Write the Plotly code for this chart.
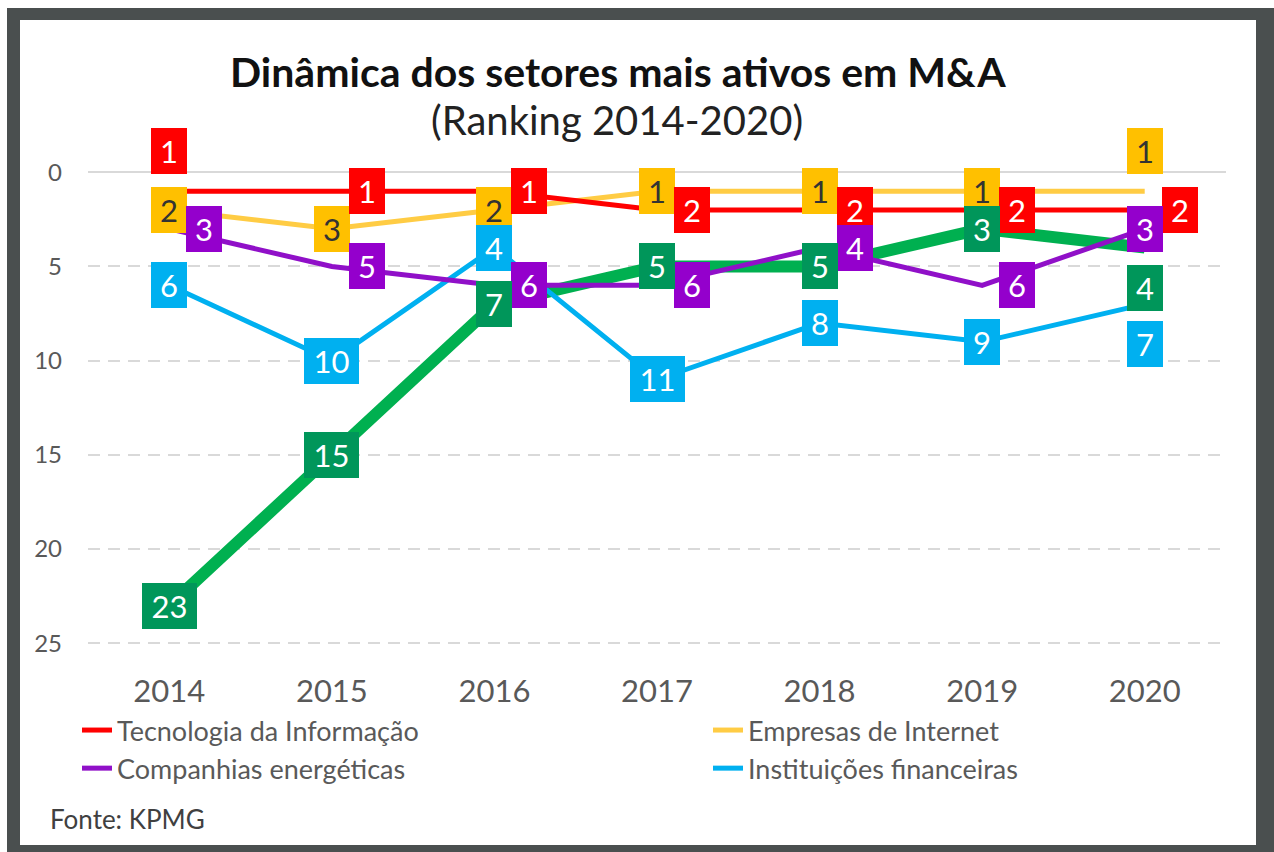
import plotly.graph_objects as go

# ---------------- data ----------------
years = ["2014", "2015", "2016", "2017", "2018", "2019", "2020"]
tecnologia = [1, 1, 1, 2, 2, 2, 2]
internet = [2, 3, 2, 1, 1, 1, 1]
energeticas = [3, 5, 6, 6, 4, 6, 3]
financeiras = [6, 10, 4, 11, 8, 9, 7]
outro = [23, 15, 7, 5, 5, 3, 4]

# label placement (c=centre, r=right, t=top, b=bottom)
pos_tecnologia = ["t", "r", "r", "r", "r", "r", "r"]
pos_internet = ["c", "c", "c", "c", "c", "c", "t"]
pos_energeticas = ["r", "r", "r", "r", "r", "r", "c"]
pos_financeiras = ["c", "c", "c", "c", "c", "c", "b"]
pos_outro = ["c", "c", "c", "c", "c", "c", "b"]

FONT = "Lato, 'Open Sans', sans-serif"
W, H = 1274, 852
ML, MR, MT, MB = 88, 48, 129, 190
PW, PH = W - ML - MR, H - MT - MB


def px_x(px):
    return (px - ML) / PW


def px_y(py):
    return (H - MB - py) / PH


series = [
    dict(name="Outro setor", y=outro, lc="#00B050", bc="#00965A", tc="white", w=12, lg=None, pos=pos_outro),
    dict(name="Instituições financeiras", y=financeiras, lc="#00B0F0", bc="#00B0F0", tc="white", w=5, lg="legend2", pos=pos_financeiras),
    dict(name="Empresas de Internet", y=internet, lc="#FFCC44", bc="#FFC000", tc="#333333", w=5, lg="legend2", pos=pos_internet),
    dict(name="Companhias energéticas", y=energeticas, lc="#9010C8", bc="#9400CC", tc="white", w=5, lg="legend", pos=pos_energeticas),
    dict(name="Tecnologia da Informação", y=tecnologia, lc="#FF0000", bc="#FF0000", tc="white", w=5, lg="legend", pos=pos_tecnologia),
]

fig = go.Figure()
legend_rank = {"Tecnologia da Informação": 1, "Companhias energéticas": 2,
               "Empresas de Internet": 1, "Instituições financeiras": 2}
for s in series:
    fig.add_trace(go.Scatter(
        x=years, y=s["y"], mode="lines", name=s["name"],
        line=dict(color=s["lc"], width=s["w"]),
        showlegend=s["lg"] is not None,
        legend=s["lg"] if s["lg"] else "legend",
        legendrank=legend_rank.get(s["name"], 1000),
        hoverinfo="skip",
    ))

order = ["Empresas de Internet", "Tecnologia da Informação", "Instituições financeiras",
         "Companhias energéticas", "Outro setor"]
shift = {"c": (0, 0), "r": (35, 0), "t": (0, 40), "b": (0, -40)}
annotations = []
for nm in order:
    s = next(t for t in series if t["name"] == nm)
    for i, (yv, p) in enumerate(zip(s["y"], s["pos"])):
        dx, dy = shift[p]
        txt = str(yv)
        annotations.append(dict(
            x=i, y=yv, xref="x", yref="y", text=txt, showarrow=False,
            xanchor="center", yanchor="middle",
            xshift=dx, yshift=dy, bgcolor=s["bc"], borderpad=0, borderwidth=0,
            width=36 if len(txt) == 1 else 55, height=46,
            font=dict(family=FONT, size=31, color=s["tc"]),
            align="center", valign="middle",
        ))

annotations += [
    dict(text="<b>Dinâmica dos setores mais ativos em M&A</b>", x=px_x(618), y=px_y(71),
         xref="paper", yref="paper", showarrow=False, xanchor="center", yanchor="middle",
         font=dict(family=FONT, size=41, color="#111111")),
    dict(text="(Ranking 2014-2020)", x=px_x(617), y=px_y(120),
         xref="paper", yref="paper", showarrow=False, xanchor="center", yanchor="middle",
         font=dict(family=FONT, size=40, color="#222222")),
    dict(text="Fonte: KPMG", x=px_x(48), y=px_y(819),
         xref="paper", yref="paper", showarrow=False, xanchor="left", yanchor="middle",
         font=dict(family=FONT, size=26, color="#404040")),
]

shapes = [
    dict(type="rect", xref="paper", yref="paper", layer="below",
         x0=px_x(7), x1=px_x(1280), y0=px_y(860), y1=px_y(8),
         fillcolor="#4A4F4F", line=dict(width=0)),
    dict(type="rect", xref="paper", yref="paper", layer="below",
         x0=px_x(20), x1=px_x(1256), y0=px_y(845), y1=px_y(20),
         fillcolor="white", line=dict(width=0)),
]

leg_common = dict(orientation="v", xref="container", yref="container",
                  xanchor="left", yanchor="top", bgcolor="rgba(0,0,0,0)",
                  font=dict(family=FONT, size=27, color="#595959"),
                  tracegroupgap=0, traceorder="normal")

fig.update_layout(
    width=W, height=H,
    margin=dict(l=ML, r=MR, t=MT, b=MB, autoexpand=False),
    paper_bgcolor="white", plot_bgcolor="rgba(0,0,0,0)",
    font=dict(family=FONT),
    annotations=annotations, shapes=shapes,
    showlegend=True,
    legend=dict(x=77 / W, y=1 - 706 / H, **leg_common),
    legend2=dict(x=708 / W, y=1 - 706 / H, **leg_common),
    hovermode=False,
)
fig.update_xaxes(type="category", range=[-0.5, 6.5], showgrid=False, zeroline=False,
                 showline=False, ticks="", ticklabelstandoff=8, tickangle=0,
                 tickfont=dict(family=FONT, size=31, color="#595959"))
fig.update_yaxes(range=[26, -2.3], tick0=0, dtick=5, showgrid=True,
                 gridcolor="#D9D9D9", gridwidth=2, griddash="12px,8px",
                 zeroline=True, zerolinecolor="#D9D9D9", zerolinewidth=2,
                 showline=False, ticks="", ticklabelstandoff=25,
                 tickfont=dict(family=FONT, size=24, color="#595959"))

fig.write_html("out.html")
